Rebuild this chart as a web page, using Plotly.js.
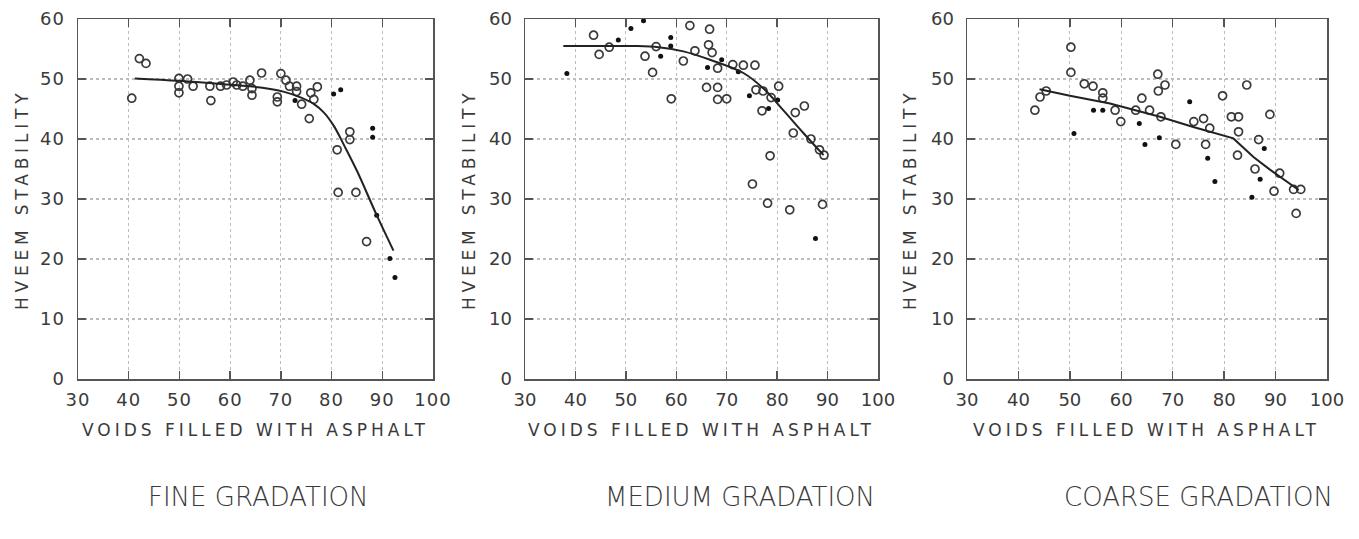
<!DOCTYPE html>
<html>
<head>
<meta charset="utf-8">
<script src="https://cdn.plot.ly/plotly-3.0.1.min.js"></script>
<style>
html,body{margin:0;padding:0;background:#fff;}
#chart{width:1359px;height:539px;}
.xtick text,.ytick text{letter-spacing:1px;}
</style>
</head>
<body>
<div id="chart"></div>
<script>
// ---- FINE GRADATION ----
const fineOpenX = [40.6,42.1,43.4,49.9,49.9,49.9,51.6,52.7,56,56.2,58.1,59.3,60.6,61.3,62.5,63.9,64.3,64.3,66.2,69.3,69.3,70,71,71.7,73.1,73.1,74.1,75.6,75.9,76.5,77.2,81.1,83.6,83.6,81.3,84.8,86.9];
const fineOpenY = [46.8,53.4,52.6,50.1,48.8,47.7,50,48.8,48.8,46.4,48.8,49,49.5,49,48.8,49.8,48.4,47.3,51,47,46.2,50.9,49.8,48.8,48.8,47.9,45.8,43.4,47.7,46.6,48.7,38.2,41.2,39.9,31.1,31.1,22.9];
const fineFilledX = [72.8,80.4,81.8,88.1,88.1,88.9,91.5,92.5];
const fineFilledY = [46.4,47.5,48.2,41.8,40.3,27.3,20.1,16.9];
const fineCurveX = [41.2,50,59.3,66,70.5,74,76.4,78.5,80.5,82.5,85,88.9,92.2];
const fineCurveY = [50.1,49.7,49.1,48.6,47.9,46.9,45.9,44.4,42.1,38.9,34.7,27.3,21.4];

// ---- MEDIUM GRADATION ----
const medOpenX = [43.6,44.7,46.7,53.8,55.3,56,59,61.4,62.7,63.7,66.6,66.4,67.1,66,68.2,68.2,68.2,70,71.2,73.3,75.6,75.8,77.2,77,78.8,80.3,83.6,85.4,83.2,86.7,88.4,89.3,78.6,75.1,78.1,82.5,89];
const medOpenY = [57.3,54.1,55.3,53.8,51.1,55.4,46.7,53,58.9,54.7,58.3,55.7,54.4,48.6,51.8,48.6,46.6,46.7,52.4,52.3,52.3,48.2,48,44.7,46.9,48.8,44.4,45.5,41,40,38.2,37.3,37.2,32.5,29.3,28.2,29.1];
const medFilledX = [38.3,48.5,51,53.5,56.9,58.9,58.9,66.2,69,72.3,74.5,78.3,80.1,87.6];
const medFilledY = [50.9,56.5,58.4,59.7,53.8,56.9,55.5,51.9,53.2,51.2,47.2,45.1,46.5,23.4];
const medCurveX = [37.6,45,52,56.5,61.4,66.7,73.3,77.3,81.2,85.2,89.2];
const medCurveY = [55.5,55.5,55.5,55.3,54.6,53.2,51.0,48.4,44.8,41,37.3];

// ---- COARSE GRADATION ----
const coarseOpenX = [43.2,44.2,45.4,50.2,50.2,52.8,54.5,56.4,56.4,58.8,59.9,62.8,64,65.5,67.1,67.2,68.5,67.7,70.6,74.1,76,77.2,76.4,79.7,81.4,82.8,82.8,82.6,84.4,86.7,88.9,86,90.8,89.7,93.5,94.9,94];
const coarseOpenY = [44.8,47,48,55.3,51.1,49.2,48.8,47.7,46.8,44.8,42.9,44.8,46.8,44.8,50.8,48,49,43.7,39.1,42.9,43.4,41.8,39.1,47.2,43.7,43.7,41.2,37.3,49,39.9,44.1,35,34.3,31.3,31.6,31.6,27.6];
const coarseFilledX = [50.8,54.6,56.4,63.5,64.6,67.4,73.3,76.8,78.2,87.8,87,85.4];
const coarseFilledY = [40.9,44.8,44.8,42.6,39.1,40.2,46.2,36.8,32.9,38.4,33.3,30.3];
const coarseCurveX = [44.1,50,57.8,67.5,74,81.8,85.7,88.9,94.5];
const coarseCurveY = [48.3,47.2,45.9,43.7,42,40.1,37,34.9,31.5];

const xTickVals = [30,40,50,60,70,80,90,100];
const yTickVals = [0,10,20,30,40,50,60];
const xTitle = "VOIDS FILLED WITH ASPHALT";
const yTitle = "HVEEM STABILITY";
const panelTitles = ["FINE GRADATION","MEDIUM GRADATION","COARSE GRADATION"];

const W = 1359;
const domains = [[78/W,433/W],[525/W,878/W],[967/W,1327/W]];
const yTitleX = [22/W,469/W,910/W];
const titleCenters = [258/W,740/W,1198/W];

const panels = [
  {ox:fineOpenX, oy:fineOpenY, fx:fineFilledX, fy:fineFilledY, cx:fineCurveX, cy:fineCurveY, shape:'spline'},
  {ox:medOpenX, oy:medOpenY, fx:medFilledX, fy:medFilledY, cx:medCurveX, cy:medCurveY, shape:'spline'},
  {ox:coarseOpenX, oy:coarseOpenY, fx:coarseFilledX, fy:coarseFilledY, cx:coarseCurveX, cy:coarseCurveY, shape:'linear'}
];

const traces = [];
const layout = {
  width: 1359, height: 539,
  margin: {l:0, r:0, t:19, b:160},
  paper_bgcolor: '#ffffff', plot_bgcolor: '#ffffff',
  showlegend: false,
  font: {family: 'DejaVu Sans, sans-serif', color: '#3a3a3a'},
  annotations: []
};

panels.forEach((p, i) => {
  const n = i === 0 ? '' : String(i + 1);
  traces.push({x:p.ox, y:p.oy, xaxis:'x'+n, yaxis:'y'+n, type:'scatter', mode:'markers',
    marker:{symbol:'circle-open', size:8, color:'#3a3a3a', line:{width:1.7, color:'#3a3a3a'}}, hoverinfo:'skip'});
  traces.push({x:p.fx, y:p.fy, xaxis:'x'+n, yaxis:'y'+n, type:'scatter', mode:'markers',
    marker:{symbol:'circle', size:5, color:'#111'}, hoverinfo:'skip'});
  traces.push({x:p.cx, y:p.cy, xaxis:'x'+n, yaxis:'y'+n, type:'scatter', mode:'lines',
    line:{color:'#222', width:2, shape:p.shape, smoothing:1}, hoverinfo:'skip'});

  layout['xaxis'+n] = {
    domain: domains[i], anchor: 'y'+n, range:[30,100], tickvals:xTickVals,
    ticks:'inside', ticklen:8, tickwidth:1.5, tickcolor:'#555', mirror:'ticks',
    showline:true, linecolor:'#555', linewidth:1.5,
    showgrid:true, gridcolor:'#bdbdbd', griddash:'dot', gridwidth:1.2, zeroline:false,
    tickfont:{family:'DejaVu Sans, sans-serif', size:18, color:'#3a3a3a'}, ticklabelstandoff:4
  };
  layout['yaxis'+n] = {
    domain:[0,1], anchor:'x'+n, range:[0,60], tickvals:yTickVals,
    ticks:'inside', ticklen:8, tickwidth:1.5, tickcolor:'#555', mirror:'ticks',
    showline:true, linecolor:'#555', linewidth:1.5,
    showgrid:true, gridcolor:'#bdbdbd', griddash:'dot', gridwidth:1.2, zeroline:false,
    tickfont:{family:'DejaVu Sans, sans-serif', size:18, color:'#3a3a3a'}, ticklabelstandoff:8
  };
  layout.annotations.push({
    text:xTitle, xref:'paper', yref:'paper', x:(domains[i][0]+domains[i][1])/2, y:(379-430)/360,
    xanchor:'center', yanchor:'middle', showarrow:false,
    font:{family:'DejaVu Sans, sans-serif', size:17, color:'#3a3a3a'}
  });
  layout.annotations.push({
    text:yTitle, xref:'paper', yref:'paper', x:yTitleX[i], y:0.5, textangle:-90,
    xanchor:'center', yanchor:'middle', showarrow:false,
    font:{family:'DejaVu Sans, sans-serif', size:17, color:'#3a3a3a'}
  });
  layout.annotations.push({
    text:panelTitles[i], xref:'paper', yref:'paper', x:titleCenters[i], y:(379-497)/360,
    xanchor:'center', yanchor:'middle', showarrow:false,
    font:{family:'DejaVu Sans, sans-serif', size:26, color:'#3a3a3a', weight:300}
  });
});

const spacing = {};
spacing[xTitle] = '4px';
spacing[yTitle] = '4.8px';
panelTitles.forEach(t => spacing[t] = '0px');

Plotly.newPlot('chart', traces, layout, {staticPlot:true, displayModeBar:false}).then(gd => {
  gd.querySelectorAll('.annotation-text').forEach(el => {
    const s = spacing[el.textContent];
    if (s) el.style.letterSpacing = s;
  });
});
</script>
</body>
</html>
